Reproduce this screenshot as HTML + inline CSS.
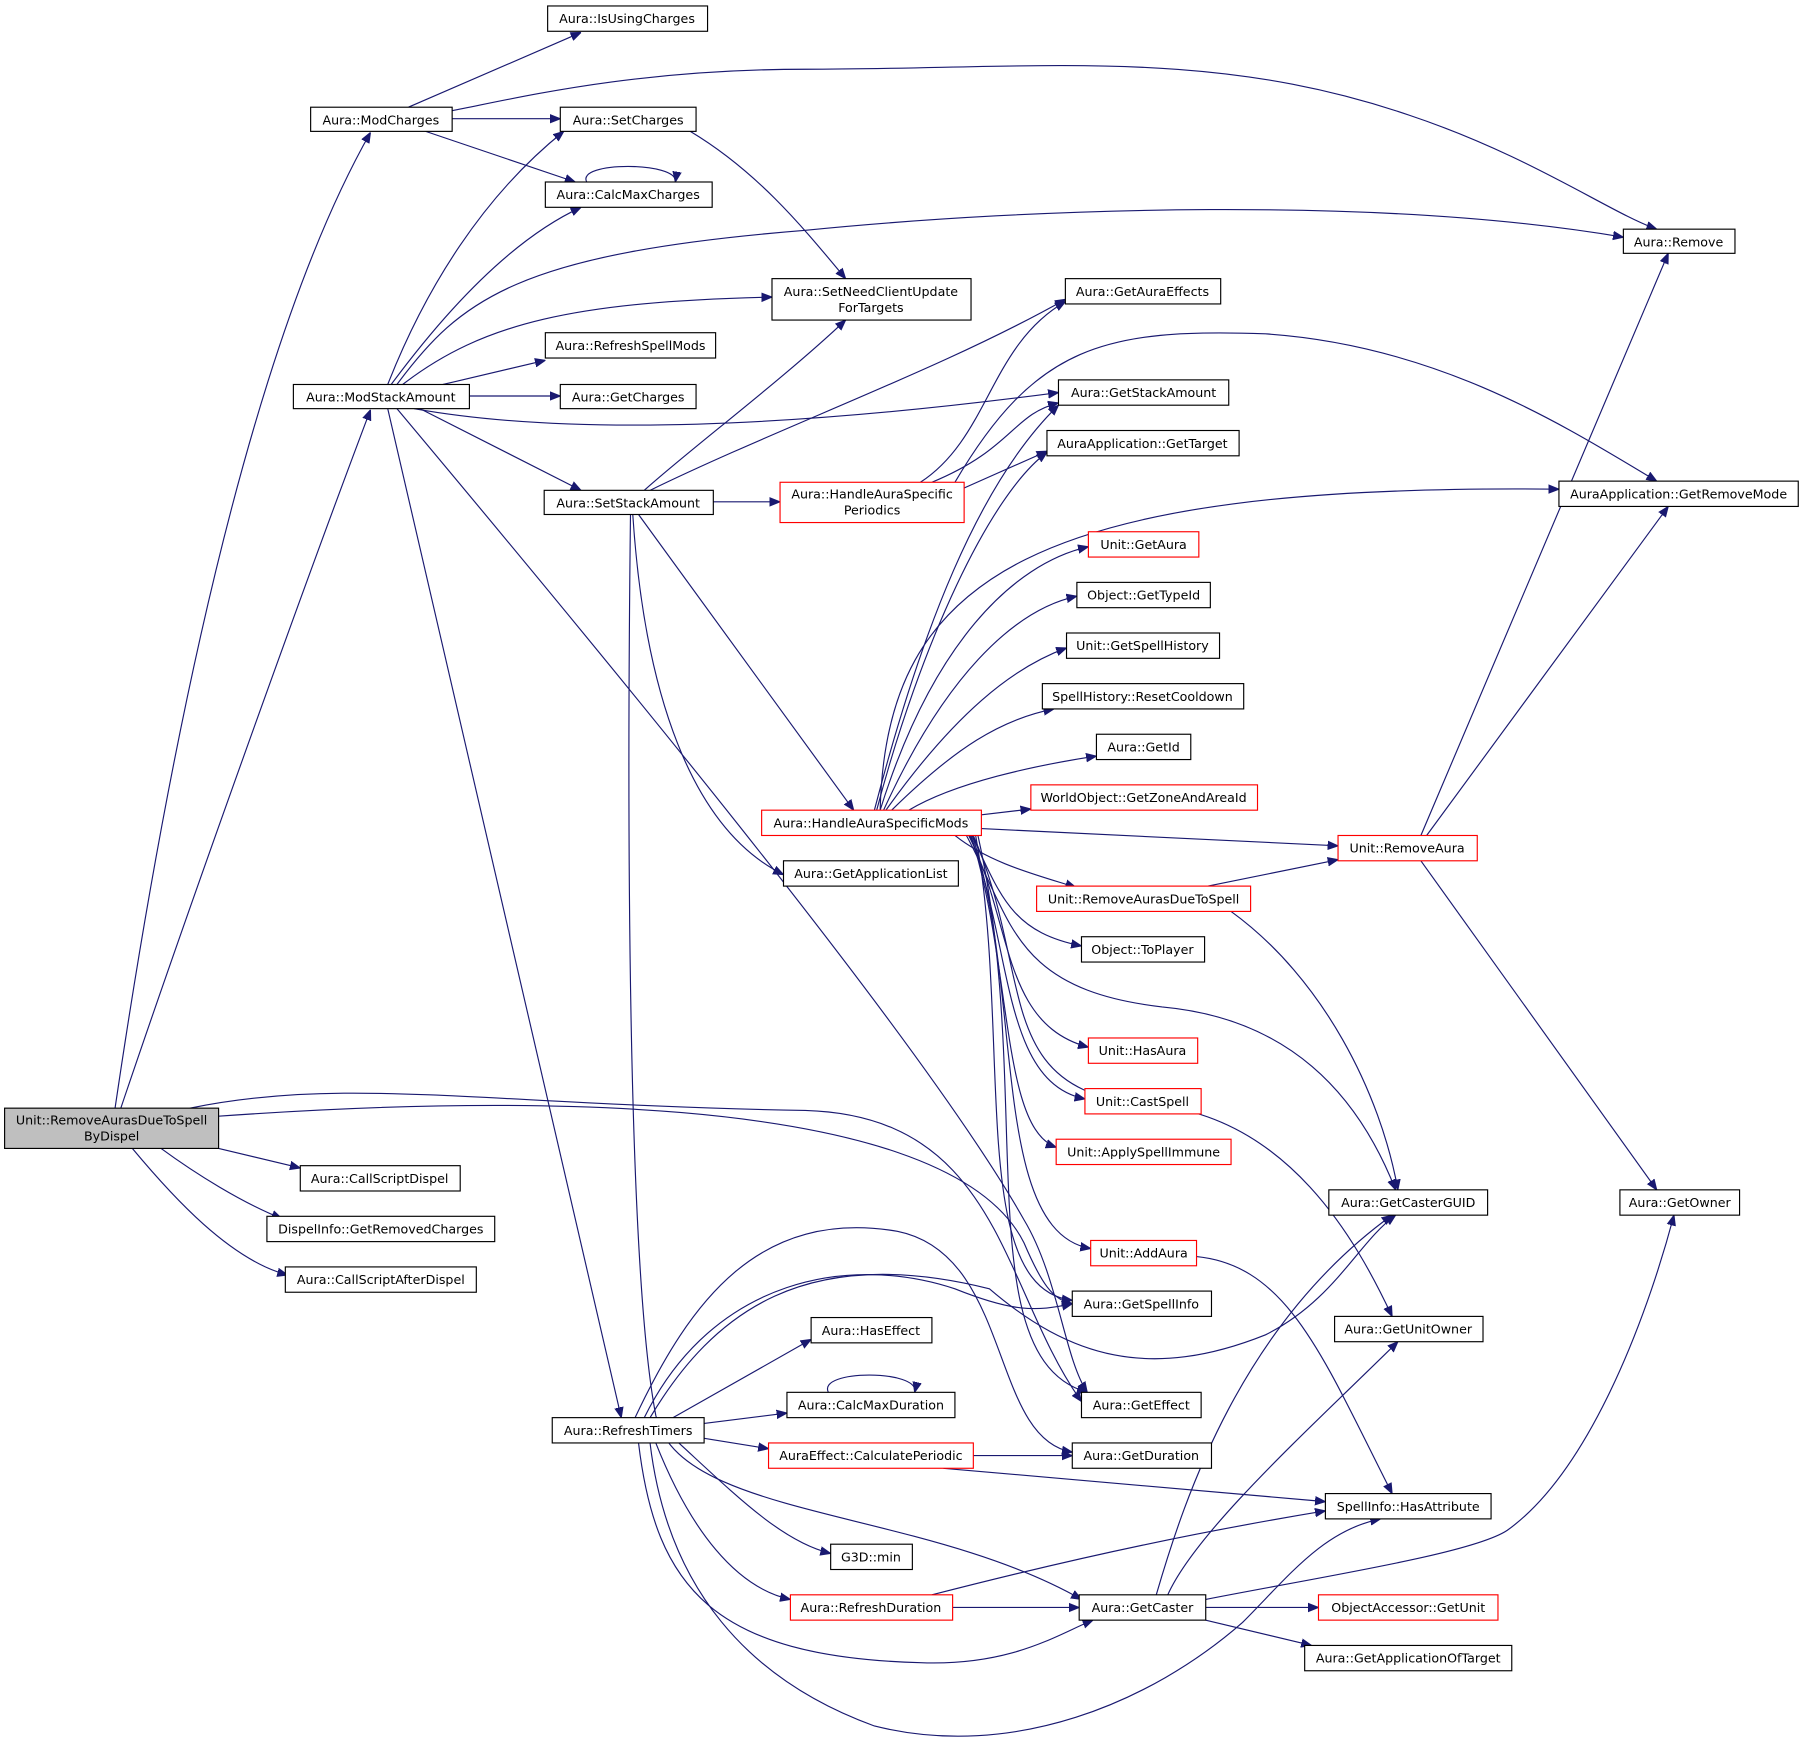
<!DOCTYPE html>
<html><head><meta charset="utf-8"><style>
html,body{margin:0;padding:0;background:#fff;}
svg{display:block;}
text{font-family:"DejaVu Sans","Liberation Sans",sans-serif;font-size:11px;fill:#000;}
.n{fill:#fff;stroke:#000;stroke-width:1;}
.r{fill:#fff;stroke:#ff0000;stroke-width:1;}
.e{fill:none;stroke:#191970;stroke-width:1;marker-end:url(#a);}
</style></head><body>
<svg width="1804" height="1740" viewBox="0 0 1568 1512" xmlns="http://www.w3.org/2000/svg">
<defs><marker id="a" viewBox="0 0 10 10" refX="10" refY="5" markerWidth="9" markerHeight="9" markerUnits="userSpaceOnUse" orient="auto"><path d="M0,1 L10,5 L0,9 z" fill="#191970" stroke="#191970"/></marker></defs>
<rect width="1568" height="1512" fill="#fff"/>
<g>
<!-- edges -->
<path class="e" d="M100,963 C130,760 200,330 322,115"/>
<path class="e" d="M105,963 C160,800 260,520 322,356"/>
<path class="e" d="M190,970 C400,955 820,940 890,1080 C905,1115 915,1130 932,1133"/>
<path class="e" d="M165,963 C300,935 420,960 700,965 C870,970 870,1120 940,1218"/>
<path class="e" d="M190,998 L261,1015"/>
<path class="e" d="M140,998 C170,1020 210,1045 245,1059"/>
<path class="e" d="M115,998 C150,1040 200,1095 250,1108"/>
<path class="e" d="M355,93 L505,28"/>
<path class="e" d="M393,103 L487,103"/>
<path class="e" d="M370,114 L500,158"/>
<path class="e" d="M393,96 C450,85 550,60 700,60 C900,60 1050,40 1225,100 C1330,135 1400,185 1440,199"/>
<path class="e" d="M600,114 C660,150 700,200 735,242"/>
<path class="e" d="M510,158 C500,140 590,140 587,158"/>
<path class="e" d="M337,334 C370,250 420,170 490,114"/>
<path class="e" d="M340,334 C380,280 440,210 505,180"/>
<path class="e" d="M345,334 C400,260 450,220 700,200 C900,180 1200,170 1411,206"/>
<path class="e" d="M350,334 C420,280 500,262 671,258"/>
<path class="e" d="M385,334 L474,313"/>
<path class="e" d="M408,344 L487,344"/>
<path class="e" d="M360,355 C500,380 700,370 920,341"/>
<path class="e" d="M365,355 L505,426"/>
<path class="e" d="M337,355 L540,1232"/>
<path class="e" d="M345,355 C500,540 800,900 890,1060 C920,1110 925,1180 945,1210"/>
<path class="e" d="M560,426 C600,390 680,330 735,278"/>
<path class="e" d="M565,426 C680,370 820,320 926,260"/>
<path class="e" d="M620,436 L678,436"/>
<path class="e" d="M555,447 L742,704"/>
<path class="e" d="M550,447 C560,600 600,720 681,760"/>
<path class="e" d="M548,447 C545,700 545,1100 570,1230 C590,1320 800,1310 940,1390"/>
<path class="e" d="M800,419 C860,380 860,300 926,262"/>
<path class="e" d="M810,419 C880,390 880,360 920,350"/>
<path class="e" d="M838,424 L910,392"/>
<path class="e" d="M830,419 C900,300 960,285 1100,290 C1250,300 1360,370 1440,418"/>
<path class="e" d="M760,704 C800,550 850,420 920,352"/>
<path class="e" d="M762,704 C800,560 860,430 910,393"/>
<path class="e" d="M765,704 C770,500 900,420 1355,425"/>
<path class="e" d="M765,704 C810,560 880,490 946,475"/>
<path class="e" d="M768,704 C820,590 880,530 936,518"/>
<path class="e" d="M770,704 C830,620 880,580 927,563"/>
<path class="e" d="M775,704 C830,650 870,625 916,616"/>
<path class="e" d="M790,704 C830,680 900,665 953,657"/>
<path class="e" d="M853,708 L896,703"/>
<path class="e" d="M853,720 L1163,735"/>
<path class="e" d="M830,726 C860,750 900,760 935,771"/>
<path class="e" d="M845,726 C870,780 880,810 940,822"/>
<path class="e" d="M840,726 C880,800 880,860 1010,875 C1120,885 1180,950 1213,1034"/>
<path class="e" d="M842,726 C880,800 870,890 946,910"/>
<path class="e" d="M843,726 C880,820 870,940 943,955"/>
<path class="e" d="M844,726 C880,840 870,980 918,997"/>
<path class="e" d="M846,726 C900,850 860,950 1000,960 C1120,970 1180,1080 1210,1144"/>
<path class="e" d="M845,726 C890,860 860,1070 948,1085"/>
<path class="e" d="M848,726 C880,900 840,1120 932,1130"/>
<path class="e" d="M850,726 C900,950 840,1180 945,1210"/>
<path class="e" d="M1050,770 L1163,747"/>
<path class="e" d="M1070,792 C1150,850 1200,950 1215,1034"/>
<path class="e" d="M1235,726 L1450,220"/>
<path class="e" d="M1240,726 L1450,440"/>
<path class="e" d="M1235,748 L1440,1034"/>
<path class="e" d="M1040,1092 C1120,1100 1150,1180 1210,1298"/>
<path class="e" d="M585,1232 L705,1164"/>
<path class="e" d="M612,1237 L684,1228"/>
<path class="e" d="M612,1250 L668,1259"/>
<path class="e" d="M590,1254 C640,1300 680,1340 722,1350"/>
<path class="e" d="M570,1254 C600,1330 640,1380 687,1390"/>
<path class="e" d="M555,1254 C570,1380 620,1440 800,1445 C880,1448 920,1420 950,1408"/>
<path class="e" d="M565,1254 C580,1380 650,1460 760,1500 C880,1530 1000,1480 1080,1410 C1120,1370 1150,1330 1200,1320"/>
<path class="e" d="M552,1232 C600,1130 660,1050 780,1070 C880,1090 860,1250 932,1262"/>
<path class="e" d="M560,1232 C620,1110 740,1090 830,1120 C880,1140 900,1140 932,1133"/>
<path class="e" d="M565,1232 C620,1140 700,1080 860,1120 C930,1180 1000,1200 1100,1160 C1160,1130 1180,1080 1213,1056"/>
<path class="e" d="M720,1210 C710,1190 800,1190 795,1210"/>
<path class="e" d="M846,1265 L932,1265"/>
<path class="e" d="M820,1276 L1152,1305"/>
<path class="e" d="M828,1397 L938,1397"/>
<path class="e" d="M810,1386 C950,1350 1050,1330 1152,1313"/>
<path class="e" d="M1005,1386 C1030,1300 1080,1150 1210,1056"/>
<path class="e" d="M1015,1386 C1040,1330 1140,1240 1215,1166"/>
<path class="e" d="M1048,1390 C1150,1370 1280,1350 1310,1330 C1380,1280 1430,1150 1455,1056"/>
<path class="e" d="M1048,1397 L1146,1397"/>
<path class="e" d="M1048,1408 L1140,1430"/>
</g>
<g>
<rect x="4" y="963" width="186" height="35" fill="#bfbfbf" stroke="#000"/>
<text x="97" y="977" text-anchor="middle">Unit::RemoveAurasDueToSpell</text>
<text x="97" y="991" text-anchor="middle">ByDispel</text>
<rect class="n" x="476" y="5" width="139" height="22"/><text x="545" y="20" text-anchor="middle">Aura::IsUsingCharges</text>
<rect class="n" x="270" y="93" width="123" height="21"/><text x="331" y="108" text-anchor="middle">Aura::ModCharges</text>
<rect class="n" x="487" y="93" width="118" height="21"/><text x="546" y="108" text-anchor="middle">Aura::SetCharges</text>
<rect class="n" x="474" y="158" width="145" height="22"/><text x="546" y="173" text-anchor="middle">Aura::CalcMaxCharges</text>
<rect class="n" x="1411" y="199" width="97" height="21"/><text x="1459" y="214" text-anchor="middle">Aura::Remove</text>
<rect class="n" x="671" y="242" width="173" height="36"/><text x="757" y="257" text-anchor="middle">Aura::SetNeedClientUpdate</text><text x="757" y="271" text-anchor="middle">ForTargets</text>
<rect class="n" x="926" y="242" width="135" height="22"/><text x="993" y="257" text-anchor="middle">Aura::GetAuraEffects</text>
<rect class="n" x="474" y="289" width="148" height="22"/><text x="548" y="304" text-anchor="middle">Aura::RefreshSpellMods</text>
<rect class="n" x="255" y="334" width="153" height="21"/><text x="331" y="349" text-anchor="middle">Aura::ModStackAmount</text>
<rect class="n" x="487" y="334" width="118" height="21"/><text x="546" y="349" text-anchor="middle">Aura::GetCharges</text>
<rect class="n" x="920" y="330" width="148" height="22"/><text x="994" y="345" text-anchor="middle">Aura::GetStackAmount</text>
<rect class="n" x="910" y="374" width="167" height="22"/><text x="993" y="389" text-anchor="middle">AuraApplication::GetTarget</text>
<rect class="n" x="473" y="426" width="147" height="21"/><text x="546" y="441" text-anchor="middle">Aura::SetStackAmount</text>
<rect class="r" x="678" y="419" width="160" height="35"/><text x="758" y="433" text-anchor="middle">Aura::HandleAuraSpecific</text><text x="758" y="447" text-anchor="middle">Periodics</text>
<rect class="n" x="1355" y="418" width="208" height="22"/><text x="1459" y="433" text-anchor="middle">AuraApplication::GetRemoveMode</text>
<rect class="r" x="946" y="462" width="96" height="22"/><text x="994" y="477" text-anchor="middle">Unit::GetAura</text>
<rect class="n" x="936" y="506" width="116" height="22"/><text x="994" y="521" text-anchor="middle">Object::GetTypeId</text>
<rect class="n" x="927" y="550" width="133" height="22"/><text x="993" y="565" text-anchor="middle">Unit::GetSpellHistory</text>
<rect class="n" x="906" y="594" width="175" height="22"/><text x="993" y="609" text-anchor="middle">SpellHistory::ResetCooldown</text>
<rect class="n" x="953" y="638" width="82" height="22"/><text x="994" y="653" text-anchor="middle">Aura::GetId</text>
<rect class="r" x="896" y="682" width="197" height="22"/><text x="994" y="697" text-anchor="middle">WorldObject::GetZoneAndAreaId</text>
<rect class="r" x="662" y="704" width="191" height="22"/><text x="757" y="719" text-anchor="middle">Aura::HandleAuraSpecificMods</text>
<rect class="r" x="1163" y="726" width="121" height="22"/><text x="1223" y="741" text-anchor="middle">Unit::RemoveAura</text>
<rect class="n" x="681" y="748" width="152" height="22"/><text x="757" y="763" text-anchor="middle">Aura::GetApplicationList</text>
<rect class="r" x="901" y="770" width="186" height="22"/><text x="994" y="785" text-anchor="middle">Unit::RemoveAurasDueToSpell</text>
<rect class="n" x="940" y="814" width="107" height="22"/><text x="993" y="829" text-anchor="middle">Object::ToPlayer</text>
<rect class="r" x="946" y="902" width="95" height="22"/><text x="993" y="917" text-anchor="middle">Unit::HasAura</text>
<rect class="r" x="943" y="946" width="101" height="22"/><text x="993" y="961" text-anchor="middle">Unit::CastSpell</text>
<rect class="r" x="918" y="990" width="152" height="22"/><text x="994" y="1005" text-anchor="middle">Unit::ApplySpellImmune</text>
<rect class="n" x="1155" y="1034" width="138" height="22"/><text x="1224" y="1049" text-anchor="middle">Aura::GetCasterGUID</text>
<rect class="n" x="1408" y="1034" width="104" height="22"/><text x="1460" y="1049" text-anchor="middle">Aura::GetOwner</text>
<rect class="n" x="261" y="1013" width="139" height="22"/><text x="330" y="1028" text-anchor="middle">Aura::CallScriptDispel</text>
<rect class="n" x="232" y="1057" width="198" height="22"/><text x="331" y="1072" text-anchor="middle">DispelInfo::GetRemovedCharges</text>
<rect class="n" x="248" y="1101" width="166" height="22"/><text x="331" y="1116" text-anchor="middle">Aura::CallScriptAfterDispel</text>
<rect class="r" x="948" y="1078" width="92" height="22"/><text x="994" y="1093" text-anchor="middle">Unit::AddAura</text>
<rect class="n" x="932" y="1122" width="121" height="22"/><text x="992" y="1137" text-anchor="middle">Aura::GetSpellInfo</text>
<rect class="n" x="705" y="1145" width="105" height="22"/><text x="757" y="1160" text-anchor="middle">Aura::HasEffect</text>
<rect class="n" x="1160" y="1144" width="129" height="22"/><text x="1224" y="1159" text-anchor="middle">Aura::GetUnitOwner</text>
<rect class="n" x="684" y="1210" width="146" height="22"/><text x="757" y="1225" text-anchor="middle">Aura::CalcMaxDuration</text>
<rect class="n" x="940" y="1210" width="104" height="22"/><text x="992" y="1225" text-anchor="middle">Aura::GetEffect</text>
<rect class="n" x="480" y="1232" width="132" height="22"/><text x="546" y="1247" text-anchor="middle">Aura::RefreshTimers</text>
<rect class="r" x="668" y="1254" width="178" height="22"/><text x="757" y="1269" text-anchor="middle">AuraEffect::CalculatePeriodic</text>
<rect class="n" x="932" y="1254" width="121" height="22"/><text x="992" y="1269" text-anchor="middle">Aura::GetDuration</text>
<rect class="n" x="1152" y="1298" width="144" height="22"/><text x="1224" y="1313" text-anchor="middle">SpellInfo::HasAttribute</text>
<rect class="n" x="722" y="1342" width="71" height="22"/><text x="757" y="1357" text-anchor="middle">G3D::min</text>
<rect class="r" x="687" y="1386" width="141" height="22"/><text x="757" y="1401" text-anchor="middle">Aura::RefreshDuration</text>
<rect class="n" x="938" y="1386" width="110" height="22"/><text x="993" y="1401" text-anchor="middle">Aura::GetCaster</text>
<rect class="r" x="1146" y="1386" width="156" height="22"/><text x="1224" y="1401" text-anchor="middle">ObjectAccessor::GetUnit</text>
<rect class="n" x="1134" y="1430" width="180" height="22"/><text x="1224" y="1445" text-anchor="middle">Aura::GetApplicationOfTarget</text>
</g>
</svg>
</body></html>
